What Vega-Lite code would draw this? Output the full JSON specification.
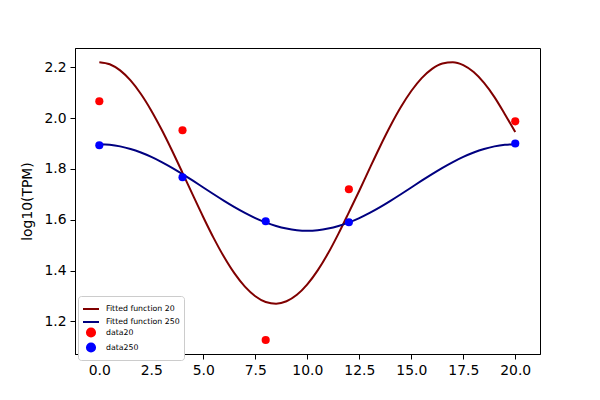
{
  "$schema": "https://vega.github.io/schema/vega-lite/v6.json",
  "autosize": "none",
  "width": 465,
  "height": 306,
  "padding": {"left": 75, "top": 48, "right": 60, "bottom": 46},
  "config": {
    "font": "DejaVu Sans",
    "view": {"stroke": "black", "strokeWidth": 1},
    "axis": {
      "grid": false, "domainColor": "black", "tickColor": "black", "labelColor": "black",
      "tickSize": 5, "labelFontSize": 13.9, "labelPadding": 4, "titleFontSize": 13.9,
      "titleFontWeight": "normal", "titleColor": "black"
    }
  },
  "data": {
    "values": [
      {"x": 0, "y": 2.22, "series": "Fitted function 20", "kind": "fit"},
      {"x": 0.5, "y": 2.2118, "series": "Fitted function 20", "kind": "fit"},
      {"x": 1, "y": 2.1876, "series": "Fitted function 20", "kind": "fit"},
      {"x": 1.5, "y": 2.148, "series": "Fitted function 20", "kind": "fit"},
      {"x": 2, "y": 2.0946, "series": "Fitted function 20", "kind": "fit"},
      {"x": 2.5, "y": 2.0291, "series": "Fitted function 20", "kind": "fit"},
      {"x": 3, "y": 1.9539, "series": "Fitted function 20", "kind": "fit"},
      {"x": 3.5, "y": 1.8715, "series": "Fitted function 20", "kind": "fit"},
      {"x": 4, "y": 1.7847, "series": "Fitted function 20", "kind": "fit"},
      {"x": 4.5, "y": 1.6966, "series": "Fitted function 20", "kind": "fit"},
      {"x": 5, "y": 1.6101, "series": "Fitted function 20", "kind": "fit"},
      {"x": 5.5, "y": 1.5279, "series": "Fitted function 20", "kind": "fit"},
      {"x": 6, "y": 1.4534, "series": "Fitted function 20", "kind": "fit"},
      {"x": 6.5, "y": 1.3889, "series": "Fitted function 20", "kind": "fit"},
      {"x": 7, "y": 1.3369, "series": "Fitted function 20", "kind": "fit"},
      {"x": 7.5, "y": 1.2994, "series": "Fitted function 20", "kind": "fit"},
      {"x": 8, "y": 1.2768, "series": "Fitted function 20", "kind": "fit"},
      {"x": 8.5, "y": 1.2701, "series": "Fitted function 20", "kind": "fit"},
      {"x": 9, "y": 1.2794, "series": "Fitted function 20", "kind": "fit"},
      {"x": 9.5, "y": 1.3047, "series": "Fitted function 20", "kind": "fit"},
      {"x": 10, "y": 1.3458, "series": "Fitted function 20", "kind": "fit"},
      {"x": 10.5, "y": 1.4009, "series": "Fitted function 20", "kind": "fit"},
      {"x": 11, "y": 1.4681, "series": "Fitted function 20", "kind": "fit"},
      {"x": 11.5, "y": 1.5456, "series": "Fitted function 20", "kind": "fit"},
      {"x": 12, "y": 1.6292, "series": "Fitted function 20", "kind": "fit"},
      {"x": 12.5, "y": 1.714, "series": "Fitted function 20", "kind": "fit"},
      {"x": 13, "y": 1.8022, "series": "Fitted function 20", "kind": "fit"},
      {"x": 13.5, "y": 1.8884, "series": "Fitted function 20", "kind": "fit"},
      {"x": 14, "y": 1.9696, "series": "Fitted function 20", "kind": "fit"},
      {"x": 14.5, "y": 2.0431, "series": "Fitted function 20", "kind": "fit"},
      {"x": 15, "y": 2.1063, "series": "Fitted function 20", "kind": "fit"},
      {"x": 15.5, "y": 2.1572, "series": "Fitted function 20", "kind": "fit"},
      {"x": 16, "y": 2.1937, "series": "Fitted function 20", "kind": "fit"},
      {"x": 16.5, "y": 2.2147, "series": "Fitted function 20", "kind": "fit"},
      {"x": 17, "y": 2.2197, "series": "Fitted function 20", "kind": "fit"},
      {"x": 17.5, "y": 2.2082, "series": "Fitted function 20", "kind": "fit"},
      {"x": 18, "y": 2.1809, "series": "Fitted function 20", "kind": "fit"},
      {"x": 18.5, "y": 2.1384, "series": "Fitted function 20", "kind": "fit"},
      {"x": 19, "y": 2.0825, "series": "Fitted function 20", "kind": "fit"},
      {"x": 19.5, "y": 2.0154, "series": "Fitted function 20", "kind": "fit"},
      {"x": 20, "y": 1.945, "series": "Fitted function 20", "kind": "fit"},
      {"x": 0, "y": 1.897, "series": "Fitted function 250", "kind": "fit"},
      {"x": 0.5, "y": 1.8949, "series": "Fitted function 250", "kind": "fit"},
      {"x": 1, "y": 1.8887, "series": "Fitted function 250", "kind": "fit"},
      {"x": 1.5, "y": 1.8785, "series": "Fitted function 250", "kind": "fit"},
      {"x": 2, "y": 1.8645, "series": "Fitted function 250", "kind": "fit"},
      {"x": 2.5, "y": 1.8472, "series": "Fitted function 250", "kind": "fit"},
      {"x": 3, "y": 1.8269, "series": "Fitted function 250", "kind": "fit"},
      {"x": 3.5, "y": 1.8042, "series": "Fitted function 250", "kind": "fit"},
      {"x": 4, "y": 1.7795, "series": "Fitted function 250", "kind": "fit"},
      {"x": 4.5, "y": 1.7536, "series": "Fitted function 250", "kind": "fit"},
      {"x": 5, "y": 1.727, "series": "Fitted function 250", "kind": "fit"},
      {"x": 5.5, "y": 1.7004, "series": "Fitted function 250", "kind": "fit"},
      {"x": 6, "y": 1.6745, "series": "Fitted function 250", "kind": "fit"},
      {"x": 6.5, "y": 1.6498, "series": "Fitted function 250", "kind": "fit"},
      {"x": 7, "y": 1.6271, "series": "Fitted function 250", "kind": "fit"},
      {"x": 7.5, "y": 1.6068, "series": "Fitted function 250", "kind": "fit"},
      {"x": 8, "y": 1.5895, "series": "Fitted function 250", "kind": "fit"},
      {"x": 8.5, "y": 1.5755, "series": "Fitted function 250", "kind": "fit"},
      {"x": 9, "y": 1.5653, "series": "Fitted function 250", "kind": "fit"},
      {"x": 9.5, "y": 1.5591, "series": "Fitted function 250", "kind": "fit"},
      {"x": 10, "y": 1.557, "series": "Fitted function 250", "kind": "fit"},
      {"x": 10.5, "y": 1.5591, "series": "Fitted function 250", "kind": "fit"},
      {"x": 11, "y": 1.5653, "series": "Fitted function 250", "kind": "fit"},
      {"x": 11.5, "y": 1.5755, "series": "Fitted function 250", "kind": "fit"},
      {"x": 12, "y": 1.5895, "series": "Fitted function 250", "kind": "fit"},
      {"x": 12.5, "y": 1.6068, "series": "Fitted function 250", "kind": "fit"},
      {"x": 13, "y": 1.6271, "series": "Fitted function 250", "kind": "fit"},
      {"x": 13.5, "y": 1.6498, "series": "Fitted function 250", "kind": "fit"},
      {"x": 14, "y": 1.6745, "series": "Fitted function 250", "kind": "fit"},
      {"x": 14.5, "y": 1.7004, "series": "Fitted function 250", "kind": "fit"},
      {"x": 15, "y": 1.727, "series": "Fitted function 250", "kind": "fit"},
      {"x": 15.5, "y": 1.7536, "series": "Fitted function 250", "kind": "fit"},
      {"x": 16, "y": 1.7795, "series": "Fitted function 250", "kind": "fit"},
      {"x": 16.5, "y": 1.8042, "series": "Fitted function 250", "kind": "fit"},
      {"x": 17, "y": 1.8269, "series": "Fitted function 250", "kind": "fit"},
      {"x": 17.5, "y": 1.8472, "series": "Fitted function 250", "kind": "fit"},
      {"x": 18, "y": 1.8645, "series": "Fitted function 250", "kind": "fit"},
      {"x": 18.5, "y": 1.8785, "series": "Fitted function 250", "kind": "fit"},
      {"x": 19, "y": 1.8887, "series": "Fitted function 250", "kind": "fit"},
      {"x": 19.5, "y": 1.8949, "series": "Fitted function 250", "kind": "fit"},
      {"x": 20, "y": 1.897, "series": "Fitted function 250", "kind": "fit"},
      {"x": 0, "y": 2.066, "series": "data20", "kind": "data"},
      {"x": 4, "y": 1.952, "series": "data20", "kind": "data"},
      {"x": 8, "y": 1.127, "series": "data20", "kind": "data"},
      {"x": 12, "y": 1.72, "series": "data20", "kind": "data"},
      {"x": 20, "y": 1.987, "series": "data20", "kind": "data"},
      {"x": 0, "y": 1.893, "series": "data250", "kind": "data"},
      {"x": 4, "y": 1.767, "series": "data250", "kind": "data"},
      {"x": 8, "y": 1.594, "series": "data250", "kind": "data"},
      {"x": 12, "y": 1.59, "series": "data250", "kind": "data"},
      {"x": 20, "y": 1.9, "series": "data250", "kind": "data"}
    ]
  },
  "encoding": {
    "x": {
      "field": "x", "type": "quantitative", "title": null,
      "scale": {"domain": [-1.17, 21.19], "nice": false, "zero": false},
      "axis": {"values": [0, 2.5, 5, 7.5, 10, 12.5, 15, 17.5, 20], "format": ".1f"}
    },
    "y": {
      "field": "y", "type": "quantitative", "title": "log10(TPM)",
      "scale": {"domain": [1.072, 2.2756], "nice": false, "zero": false},
      "axis": {"values": [1.2, 1.4, 1.6, 1.8, 2.0, 2.2], "format": ".1f", "titlePadding": 9}
    },
    "color": {
      "field": "series", "type": "nominal", "title": null,
      "scale": {
        "domain": ["Fitted function 20", "Fitted function 250", "data20", "data250"],
        "range": ["#800000", "#000080", "#ff0000", "#0000ff"]
      },
      "legend": {
        "orient": "none", "legendX": 3, "legendY": 248,
        "fillColor": "white", "strokeColor": "#cccccc", "cornerRadius": 3,
        "padding": 4, "labelFontSize": 7.8, "labelColor": "black", "rowPadding": -2,
        "labelOffset": 6, "symbolStrokeWidth": 2,
        "encode": {
          "symbols": {
            "update": {
              "stroke": {"scale": "color", "field": "value"}
            }
          }
        }
      }
    }
  },
  "layer": [
    {
      "transform": [{"filter": "datum.kind === 'fit'"}],
      "mark": {"type": "line", "strokeWidth": 2, "interpolate": "monotone"}
    },
    {
      "transform": [{"filter": "datum.kind === 'data'"}],
      "mark": {"type": "point", "filled": true, "opacity": 1},
      "encoding": {
        "shape": {
          "field": "series", "type": "nominal", "title": null,
          "scale": {
            "domain": ["Fitted function 20", "Fitted function 250", "data20", "data250"],
            "range": ["stroke", "stroke", "circle", "circle"]
          }
        },
        "size": {
          "field": "series", "type": "nominal", "title": null,
          "scale": {
            "type": "ordinal",
            "domain": ["Fitted function 20", "Fitted function 250", "data20", "data250"],
            "range": [256, 256, 66, 66]
          }
        }
      }
    }
  ]
}
